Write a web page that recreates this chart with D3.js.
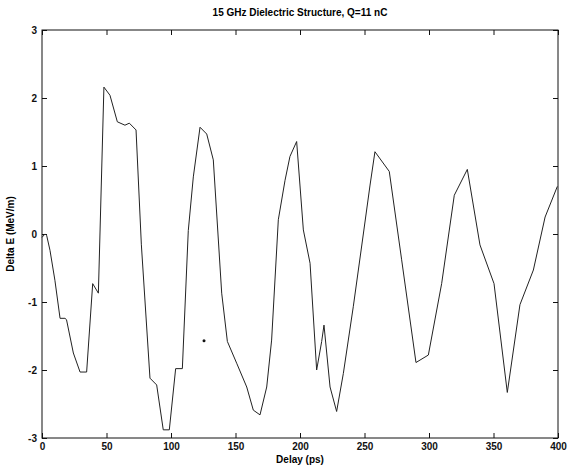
<!DOCTYPE html>
<html>
  <head>
    <meta charset="utf-8">
    <style>
    body {
      margin: 0;
      background: #fff;
      font-family: "Liberation Sans", Arial, sans-serif;
    }
    </style>
  </head>
  <body>
    <script src="https://d3js.org/d3.v7.min.js"></script>
    <script>
    var width = 569, height = 465;
    var margin = {top: 30, right: 11, bottom: 27, left: 42};

    // delay (ps) and energy change (MeV/m)
    var delay = [0, 2.3, 3.6, 6.2, 10, 14, 17.8, 19, 24.3, 29.5, 34.6, 39.3, 43.7,
      48, 52.7, 58.4, 64.3, 67.7, 72.9, 77, 83.7, 88.9, 94, 98.7, 103.6, 108.8,
      113.4, 117.3, 122.5, 127.7, 132.8, 139.3, 143.7, 150.9, 158.7, 163.8, 169,
      174.2, 178, 183.2, 188.4, 192.2, 197.4, 202.6, 207.8, 212.9, 216.8, 218.6,
      223.3, 228.4, 233.6, 241.3, 249.1, 254.3, 258.1, 269.2, 278.8, 289.9, 299.5,
      309.8, 319.6, 329.7, 339.5, 350.4, 360.7, 370.5, 380.9, 390, 399.5];
    var deltaE = [-0.05, 0.0, -0.02, -0.24, -0.68, -1.24, -1.24, -1.26, -1.75, -2.03, -2.03, -0.73, -0.87,
      2.16, 2.04, 1.65, 1.6, 1.63, 1.53, -0.15, -2.12, -2.22, -2.88, -2.88, -1.98, -1.98,
      0.05, 0.84, 1.57, 1.47, 1.09, -0.87, -1.58, -1.9, -2.25, -2.59, -2.66,
      -2.25, -1.56, 0.21, 0.79, 1.14, 1.36, 0.06, -0.43, -2.0, -1.58, -1.34,
      -2.25, -2.61, -2.05, -1.07, 0.0, 0.72, 1.21, 0.92, -0.38, -1.89, -1.78,
      -0.73, 0.57, 0.95, -0.16, -0.73, -2.33, -1.04, -0.53, 0.25, 0.7];
    // stray dot on the scan
    var dotX = [125.6];
    var dotY = [-1.57];

    var xTicks = [0, 50, 100, 150, 200, 250, 300, 350, 400];
    var yTicks = [-3, -2, -1, 0, 1, 2, 3];

    var w = width - margin.left - margin.right,
        h = height - margin.top - margin.bottom;

    var svg = d3.select("body").append("svg")
        .attr("width", width)
        .attr("height", height);

    var g = svg.append("g")
        .attr("transform", "translate(" + margin.left + "," + margin.top + ")");

    var x = d3.scaleLinear().domain([0, 400]).range([0, w]);
    var y = d3.scaleLinear().domain([-3, 3]).range([h, 0]);

    var fmt = function(d) { return String(d); };

    function styleAxis(sel, showLabels) {
      sel.select(".domain").remove();
      sel.selectAll(".tick line").attr("stroke", "#111");
      sel.selectAll(".tick text")
        .attr("fill", "#111")
        .style("font-size", "10px")
        .style("font-weight", "bold");
      if (!showLabels) sel.selectAll(".tick text").remove();
    }

    g.append("g")
        .attr("transform", "translate(0," + h + ")")
        .call(d3.axisBottom(x).tickValues(xTicks).tickFormat(fmt).tickSizeInner(-5).tickSizeOuter(0).tickPadding(5))
        .call(styleAxis, true);
    g.append("g")
        .call(d3.axisTop(x).tickValues(xTicks).tickSizeInner(-5).tickSizeOuter(0))
        .call(styleAxis, false);
    g.append("g")
        .call(d3.axisLeft(y).tickValues(yTicks).tickFormat(fmt).tickSizeInner(-5).tickSizeOuter(0).tickPadding(5))
        .call(styleAxis, true);
    g.append("g")
        .attr("transform", "translate(" + w + ",0)")
        .call(d3.axisRight(y).tickValues(yTicks).tickSizeInner(-5).tickSizeOuter(0))
        .call(styleAxis, false);

    g.append("rect")
        .attr("width", w)
        .attr("height", h)
        .attr("fill", "none")
        .attr("stroke", "#111")
        .attr("stroke-width", 1);

    var pts = delay.map(function(d, i) { return [d, deltaE[i]]; });

    var line = d3.line()
        .x(function(d) { return x(d[0]); })
        .y(function(d) { return y(d[1]); });

    g.append("path")
        .datum(pts)
        .attr("d", line)
        .attr("fill", "none")
        .attr("stroke", "#222")
        .attr("stroke-width", 1);

    g.selectAll(".dot")
        .data(dotX)
        .enter().append("circle")
        .attr("cx", function(d) { return x(d); })
        .attr("cy", function(d, i) { return y(dotY[i]); })
        .attr("r", 1.5)
        .attr("fill", "#111");

    svg.append("text")
        .attr("x", margin.left + w / 2)
        .attr("y", 16)
        .attr("text-anchor", "middle")
        .style("font-size", "10px")
        .style("font-weight", "bold")
        .text("15 GHz Dielectric Structure, Q=11 nC");

    svg.append("text")
        .attr("x", margin.left + w / 2)
        .attr("y", 463)
        .attr("text-anchor", "middle")
        .style("font-size", "10px")
        .style("font-weight", "bold")
        .text("Delay (ps)");

    svg.append("text")
        .attr("transform", "translate(14," + (margin.top + h / 2) + ") rotate(-90)")
        .attr("text-anchor", "middle")
        .style("font-size", "10px")
        .style("font-weight", "bold")
        .text("Delta E (MeV/m)");
    </script>
  </body>
</html>
